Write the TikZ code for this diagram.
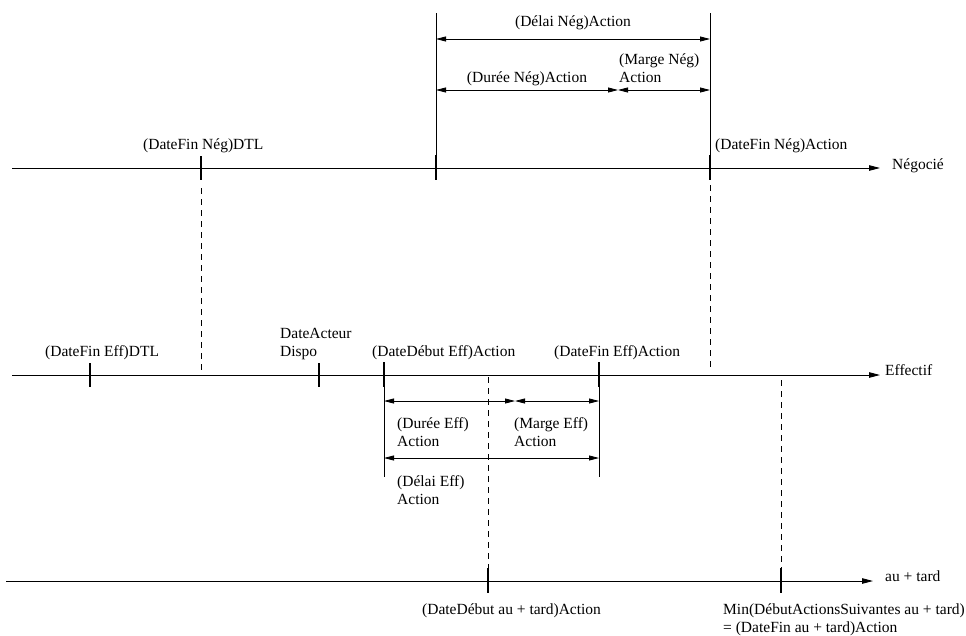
\documentclass[tikz,border=0pt]{standalone}
\usepackage{fontspec}
\setmainfont{Liberation Serif}
\usetikzlibrary{arrows.meta,calc}
\begin{document}
\begin{tikzpicture}[x=1pt,y=-1pt,
  axis/.style={line width=0.9pt,-{Triangle[length=11pt,width=5.5pt]}},
  tickmark/.style={line width=2.6pt},
  guide/.style={line width=0.8pt},
  dim/.style={line width=0.8pt,{Triangle[length=10pt,width=5pt]}-{Triangle[length=10pt,width=5pt]}},
  dashline/.style={line width=0.8pt,dash pattern=on 6pt off 5pt},
  lbl/.style={inner sep=0pt,anchor=base west,font=\fontsize{15.5}{18}\selectfont},
  lblc/.style={inner sep=0pt,anchor=base,font=\fontsize{15.5}{18}\selectfont},
  ml/.style={lbl,align=left}]
\useasboundingbox (0,0) rectangle (966,635);

% ---------------- Negocie axis ----------------
\coordinate (nS) at (12,168);
\coordinate (nE) at (880,168);
\draw[axis] (nS) -- (nE);
\node[lbl] (negL) at (892,169) {Négocié};
\coordinate (nt1) at (201,168);
\coordinate (nt2) at (436,168);
\coordinate (nt3) at (710,168);
\draw[tickmark] ($(nt1)+(0,-12)$) -- ($(nt1)+(0,12)$);
\draw[tickmark] ($(nt2)+(0,-13)$) -- ($(nt2)+(0,12)$);
\draw[tickmark] ($(nt3)+(0,-13)$) -- ($(nt3)+(0,12)$);
\coordinate (gn2) at (436,13);
\coordinate (gn3) at (710,13);
\draw[guide] (gn2) -- (nt2);
\draw[guide] (gn3) -- (nt3);
\node[lbl] (dfnDTL) at (143,149) {(DateFin Nég)DTL};
\node[lbl] (dfnAct) at (715,149) {(DateFin Nég)Action};

% dimensions negocie
\coordinate (dl1) at (436,39);
\coordinate (dl2) at (710,39);
\draw[dim] (dl1) -- (dl2);
\node[lblc] (delaiN) at (573,26) {(Délai Nég)Action};
\coordinate (du1) at (436,90);
\coordinate (du2) at (618,90);
\coordinate (du3) at (710,90);
\draw[dim] (du1) -- (du2);
\draw[dim] (du2) -- (du3);
\node[lblc] (dureeN) at (527,82) {(Durée Nég)Action};
\node[ml] (margeN) at (619,82) {(Marge Nég)\\Action};

% ---------------- Effectif axis ----------------
\coordinate (eS) at (12,375);
\coordinate (eE) at (880,375);
\draw[axis] (eS) -- (eE);
\node[lbl] (effL) at (885,375) {Effectif};
\coordinate (et1) at (90,375);
\coordinate (et2) at (319,375);
\coordinate (et3) at (384,375);
\coordinate (et4) at (599,375);
\draw[tickmark] ($(et1)+(0,-12)$) -- ($(et1)+(0,12)$);
\draw[tickmark] ($(et2)+(0,-12)$) -- ($(et2)+(0,12)$);
\draw[tickmark] ($(et3)+(0,-13)$) -- ($(et3)+(0,12)$);
\draw[tickmark] ($(et4)+(0,-13)$) -- ($(et4)+(0,12)$);
\node[lbl] (dfeDTL) at (45,356) {(DateFin Eff)DTL};
\node[ml] (dActeur) at (280,356) {DateActeur\\Dispo};
\node[lbl] (ddeAct) at (372,356) {(DateDébut Eff)Action};
\node[lbl] (dfeAct) at (554,356) {(DateFin Eff)Action};
\coordinate (ge3) at (384,477);
\coordinate (ge4) at (599,477);
\draw[guide] (et3) -- (ge3);
\draw[guide] (et4) -- (ge4);

% dimensions effectif
\coordinate (de1) at (384,401);
\coordinate (de2) at (515,401);
\coordinate (de3) at (599,401);
\draw[dim] (de1) -- (de2);
\draw[dim] (de2) -- (de3);
\coordinate (dm1) at (384,458);
\coordinate (dm2) at (599,458);
\draw[dim] (dm1) -- (dm2);
\node[ml] (dureeE) at (397,446) {(Durée Eff)\\Action};
\node[ml] (margeE) at (514,446) {(Marge Eff)\\Action};
\node[ml] (delaiE) at (397,504) {(Délai Eff)\\Action};

% ---------------- au + tard axis ----------------
\coordinate (tS) at (6,581);
\coordinate (tE) at (873,581);
\draw[axis] (tS) -- (tE);
\node[lbl] (tardL) at (885,581) {au + tard};
\coordinate (tt1) at (488,581);
\coordinate (tt2) at (781,581);
\draw[tickmark] ($(tt1)+(0,-13)$) -- ($(tt1)+(0,12)$);
\draw[tickmark] ($(tt2)+(0,-13)$) -- ($(tt2)+(0,12)$);
\node[lbl] (ddtAct) at (422,614) {(DateDébut au + tard)Action};
\node[ml] (minSuiv) at (723,632) {Min(DébutActionsSuivantes au + tard)\\= (DateFin au + tard)Action};

% ---------------- dashed projections ----------------
\coordinate (p1a) at (201,188);
\coordinate (p1b) at (201,370);
\draw[dashline] (p1a) -- (p1b);
\coordinate (p2a) at (710,185);
\coordinate (p2b) at (710,368);
\draw[dashline] (p2a) -- (p2b);
\coordinate (p3a) at (488,377);
\coordinate (p3b) at (488,568);
\draw[dashline] (p3a) -- (p3b);
\coordinate (p4a) at (781,380);
\coordinate (p4b) at (781,568);
\draw[dashline] (p4a) -- (p4b);
\end{tikzpicture}
\end{document}
